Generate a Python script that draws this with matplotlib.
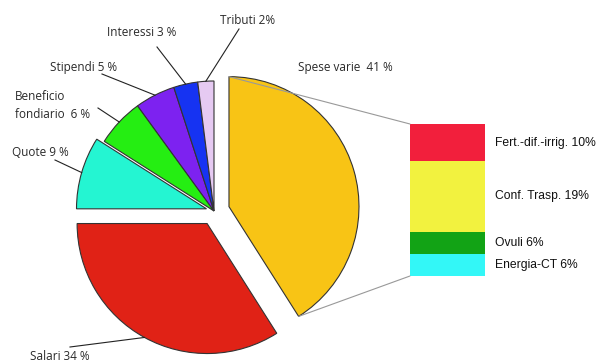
import numpy as np
import matplotlib.pyplot as plt
from matplotlib.patches import ConnectionPatch

# main pie
labels = ["Spese varie  41 %", "Salari 34 %", "Quote 9 %", "Beneficio\nfondiario  6 %",
          "Stipendi 5 %", "Interessi 3 %", "Tributi 2%"]
values = [41, 34, 9, 6, 5, 3, 2]
colors = ["#F8C415", "#E02216", "#24F5D2", "#25EE12", "#7D22F0", "#1633F2", "#E6CAF2"]
explode = [0.12, 0.11, 0.06, 0, 0, 0, 0]

# breakdown of "Spese varie"
sub_labels = ["Energia-CT 6%", "Ovuli 6%", "Conf. Trasp. 19%", "Fert.-dif.-irrig. 10%"]
sub_values = [6, 6, 19, 10]
sub_colors = ["#33F7F7", "#12A315", "#F2F23F", "#F21F3C"]

W, H = 596, 364
fig = plt.figure(figsize=(W / 100, H / 100), dpi=100)
ax = fig.add_axes([0, 0, 1, 1])

R = 130
# pie's explode is in data units, so scale by the radius
wedges, _ = ax.pie(values, colors=colors, explode=[e * R for e in explode], startangle=90,
                   counterclock=False, radius=R, center=(214, 153), frame=True,
                   wedgeprops=dict(edgecolor="#333333", linewidth=0.8))
ax.set_xlim(0, W)
ax.set_ylim(0, H)
ax.set_aspect("equal")
ax.axis("off")

# label text positions (pixels, y up)
label_pos = [None, (30, 1), (12, 211), (15, 259), (84, 297), (142, 331), (248, 344)]
line_start = [None, (70, 17), (55, 204), (98, 256), (102, 290), (157, 317), (239, 335)]
lf = dict(family="Open Sans", fontsize=8.5, color="#2a2a2a")

for i, w in enumerate(wedges):
    if label_pos[i] is None:
        continue
    mid = np.deg2rad((w.theta1 + w.theta2) / 2)
    cx, cy = w.center
    px, py = cx + w.r * np.cos(mid), cy + w.r * np.sin(mid)
    ax.plot([line_start[i][0], px], [line_start[i][1], py], color="#222222", lw=0.8)
    if i == 1:
        ax.text(*label_pos[i], labels[i], ha="left", va="bottom", **lf)
    elif i in (2, 3):
        ax.text(*label_pos[i], labels[i], ha="left", va="center", linespacing=1.5, **lf)
    else:
        ax.text(*label_pos[i], labels[i], ha="center", va="center", **lf)

ax.text(345, 297, labels[0], ha="center", va="center", **lf)

# stacked bar of the breakdown
bx, by, bw, bh = 410, 88, 75, 152
ax2 = fig.add_axes([bx / W, by / H, bw / W, bh / H])
ax2.set_xlim(-0.5, 0.5)
ax2.set_ylim(0, sum(sub_values))
ax2.axis("off")
bottom = 0
for lab, v, c in zip(sub_labels, sub_values, sub_colors):
    ax2.bar(0, v, width=1, bottom=bottom, color=c, edgecolor="none")
    ax2.text(0.633, bottom + v / 2, lab, ha="left", va="center",
             family="Liberation Sans", fontsize=8.7, color="#111111", clip_on=False)
    bottom += v

# connector lines from the exploded slice to the bar
w = wedges[0]
cx, cy = w.center
for ang, ybar in [(w.theta2, sum(sub_values)), (w.theta1, 0)]:
    a = np.deg2rad(ang)
    con = ConnectionPatch(xyA=(cx + w.r * np.cos(a), cy + w.r * np.sin(a)), coordsA=ax.transData,
                          xyB=(-0.5, ybar), coordsB=ax2.transData, color="#999999", lw=0.8)
    fig.add_artist(con)

fig.savefig("out.png", dpi=100)
